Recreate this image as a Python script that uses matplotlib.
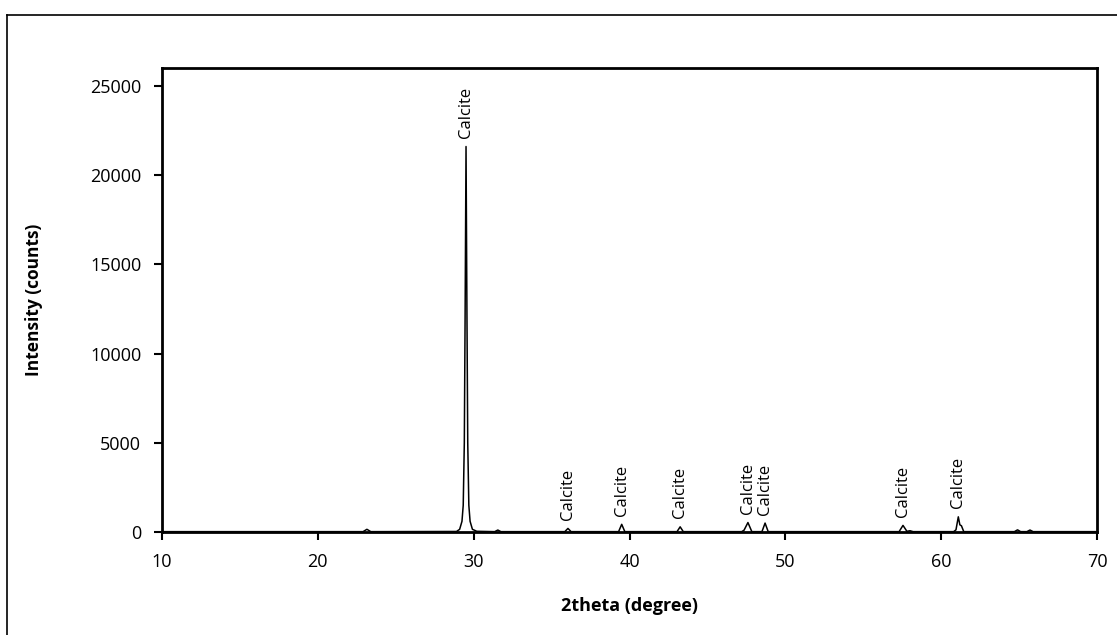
import numpy as np
import matplotlib.pyplot as plt
from matplotlib.lines import Line2D

plt.rcParams['font.family'] = ['Open Sans', 'DejaVu Sans']

# XRD scan, read as (2theta, counts) points
two_theta = [10.0, 22.9, 23.15, 23.4,
             28.9, 29.1, 29.25, 29.33, 29.4, 29.45, 29.51, 29.57, 29.62, 29.69, 29.77, 29.92, 30.2,
             31.35, 31.55, 31.75,
             35.85, 36.05, 36.25,
             39.3, 39.5, 39.7,
             43.05, 43.25, 43.45,
             47.2, 47.35, 47.6, 47.85,
             48.5, 48.7, 48.9,
             57.3, 57.55, 57.8, 58.0, 58.2,
             60.8, 60.95, 61.1, 61.2, 61.3, 61.45,
             64.7, 64.9, 65.1, 65.5, 65.7, 65.9, 70.0]
counts = [20, 20, 150, 20,
          30, 150, 600, 1500, 5000, 12000, 21600, 12000, 5000, 1500, 600, 150, 40,
          20, 110, 20,
          20, 200, 20,
          20, 430, 20,
          20, 290, 20,
          20, 100, 530, 20,
          20, 500, 20,
          20, 370, 40, 70, 20,
          20, 120, 850, 400, 350, 20,
          20, 120, 20, 20, 110, 20, 20]

# peaks labelled as calcite reflections
calcite_pos = [29.51, 36.05, 39.5, 43.25, 47.6, 48.7, 57.55, 61.1]
calcite_int = [21600, 200, 430, 290, 530, 500, 370, 850]

fig = plt.figure(figsize=(11.17, 6.35), dpi=100)
ax = fig.add_axes([162 / 1117, 1 - 532 / 635, (1097 - 162) / 1117, (532 - 68) / 635])

ax.plot(two_theta, counts, color='black', lw=1.1)

for x, y in zip(calcite_pos, calcite_int):
    ax.annotate('Calcite', xy=(x, y), xytext=(0, 6), textcoords='offset points',
                rotation=90, ha='center', va='bottom', fontsize=12)

ax.set_xlim(10, 70)
ax.set_ylim(0, 26000)
ax.set_xticks(np.arange(10, 71, 10))
ax.set_yticks(np.arange(0, 25001, 5000))
ax.tick_params(direction='out', length=6, width=1.5, labelsize=13)
ax.tick_params(axis='x', pad=9)
ax.tick_params(axis='y', pad=9)
for s in ax.spines.values():
    s.set_linewidth(2)

ax.set_xlabel('2theta (degree)', fontweight='bold', fontsize=13)
ax.set_ylabel('Intensity (counts)', fontweight='bold', fontsize=12.5)
ax.xaxis.set_label_coords(0.5, -(606 - 532) / (532 - 68), transform=ax.transAxes)
ax.yaxis.set_label_coords(-(162 - 34) / (1097 - 162), 0.5, transform=ax.transAxes)
ax.xaxis.label.set_va('center')
ax.yaxis.label.set_va('center')

# outer frame
fig.add_artist(Line2D([7 / 1117, 7 / 1117], [0, 1 - 15 / 635], color='black', lw=1.2))
fig.add_artist(Line2D([7 / 1117, 1], [1 - 15 / 635, 1 - 15 / 635], color='black', lw=1.2))

fig.savefig('out.png', dpi=100)
